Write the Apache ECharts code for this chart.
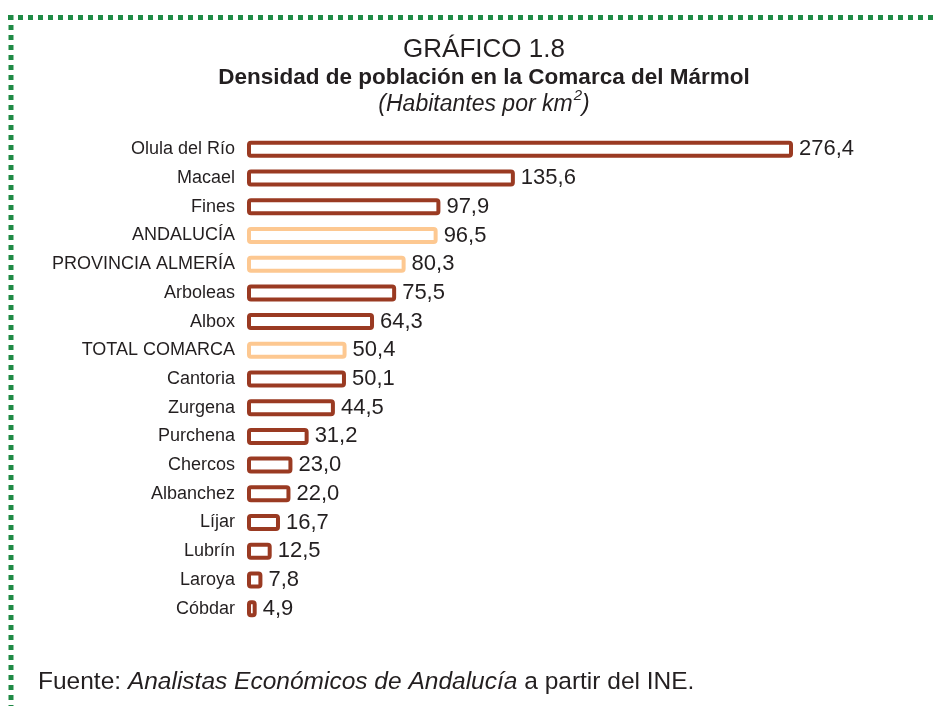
<!DOCTYPE html>
<html>
<head>
<meta charset="utf-8">
<script src="https://cdn.jsdelivr.net/npm/echarts@6/dist/echarts.min.js"></script>
<style>
  html, body { margin: 0; padding: 0; background: #fff; }
  #main { width: 934px; height: 706px; }
</style>
</head>
<body>
<div id="main"></div>
<script>
var categories = ['Olula del Río', 'Macael', 'Fines', 'ANDALUCÍA', 'PROVINCIA ALMERÍA', 'Arboleas', 'Albox',
    'TOTAL COMARCA', 'Cantoria', 'Zurgena', 'Purchena', 'Chercos', 'Albanchez', 'Líjar', 'Lubrín', 'Laroya', 'Cóbdar'];
var values = [276.4, 135.6, 97.9, 96.5, 80.3, 75.5, 64.3, 50.4, 50.1, 44.5, 31.2, 23.0, 22.0, 16.7, 12.5, 7.8, 4.9];
var highlighted = ['ANDALUCÍA', 'PROVINCIA ALMERÍA', 'TOTAL COMARCA'];

var dark = '#9a3a22';
var light = '#fdc891';
var font = '"Liberation Sans", Arial, sans-serif';

var seriesData = [];
for (var i = 0; i < values.length; i++) {
    var isLight = highlighted.indexOf(categories[i]) >= 0;
    seriesData.push({
        value: values[i],
        itemStyle: { borderColor: isLight ? light : dark }
    });
}

option = {
    backgroundColor: '#fff',
    animation: false,
    title: [
        {
            text: 'GRÁFICO 1.8',
            left: 479, top: 32, textAlign: 'center',
            textStyle: { fontFamily: font, fontSize: 26, fontWeight: 'normal', color: '#231f20' }
        },
        {
            text: 'Densidad de población en la Comarca del Mármol',
            left: 479, top: 61, textAlign: 'center',
            textStyle: { fontFamily: font, fontSize: 22.5, fontWeight: 'bold', color: '#231f20' }
        },
        {
            text: '{i|(Habitantes por km}{s|2}{i|)}',
            left: 479, top: 85, textAlign: 'center',
            textStyle: {
                rich: {
                    i: { fontFamily: font, fontSize: 23, lineHeight: 30, fontStyle: 'italic', fontWeight: 'normal', color: '#231f20' },
                    s: { fontFamily: font, fontSize: 15, lineHeight: 12, padding: [0, 0, 18, 1], fontStyle: 'italic', fontWeight: 'normal', color: '#231f20' }
                }
            }
        },
        {
            text: '{n|Fuente: }{i|Analistas Económicos de Andalucía}{n| a partir del INE.}',
            left: 33, top: 665,
            textStyle: {
                rich: {
                    n: { fontFamily: font, fontSize: 24.5, fontWeight: 'normal', color: '#231f20' },
                    i: { fontFamily: font, fontSize: 24.5, fontStyle: 'italic', fontWeight: 'normal', color: '#231f20' }
                }
            }
        }
    ],
    graphic: [
        {
            type: 'line', silent: true,
            shape: { x1: 8, y1: 17.5, x2: 934, y2: 17.5 },
            style: { stroke: '#1f8a45', lineWidth: 5, lineDash: [5, 5] }
        },
        {
            type: 'line', silent: true,
            shape: { x1: 11, y1: 15, x2: 11, y2: 706 },
            style: { stroke: '#1f8a45', lineWidth: 5, lineDash: [5, 5] }
        }
    ],
    grid: { left: 247, top: 135, width: 546, height: 488, containLabel: false },
    xAxis: {
        type: 'value', min: 0, max: 276.4, show: false
    },
    yAxis: {
        type: 'category', data: categories, inverse: true,
        axisLine: { show: false }, axisTick: { show: false },
        axisLabel: { fontFamily: font, fontSize: 18, color: '#231f20', margin: 12 }
    },
    series: [
        {
            type: 'bar',
            data: seriesData,
            barWidth: 17,
            itemStyle: { color: '#fff', borderWidth: 4, borderRadius: 2 },
            label: {
                show: true, position: 'right', distance: 6,
                fontFamily: font, fontSize: 22, color: '#231f20',
                formatter: function (p) { return p.value.toFixed(1).replace('.', ','); }
            }
        }
    ]
};

var myChart = echarts.init(document.getElementById('main'));
myChart.setOption(option);
</script>
</body>
</html>
